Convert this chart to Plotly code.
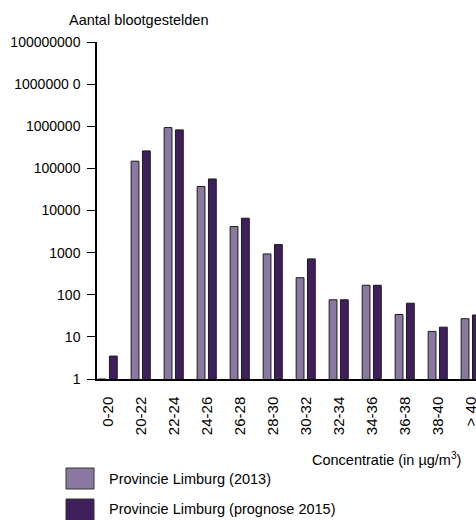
import plotly.graph_objects as go

categories = ["0-20", "20-22", "22-24", "24-26", "26-28", "28-30", "30-32",
              "32-34", "34-36", "36-38", "38-40", "> 40"]
limburg_2013 = [1, 148000, 930000, 37000, 4150, 930, 254, 76, 168, 34, 13.5, 27]
limburg_2015 = [3.5, 260000, 820000, 56000, 6560, 1550, 710, 76, 168, 63, 17, 33]
series_names = ["Provincie Limburg (2013)", "Provincie Limburg (prognose 2015)"]
series_colors = ["#8a78a0", "#3e1f5c"]
ytick_vals = [1, 10, 100, 1000, 10000, 100000, 1000000, 10000000, 100000000]
ytick_text = ["1", "10", "100", "1000", "10000", "100000", "1000000", "1000000 0", "100000000"]

FONT = "Liberation Sans, Arial, sans-serif"

fig = go.Figure()
for name, vals, col in zip(series_names, [limburg_2013, limburg_2015], series_colors):
    fig.add_trace(go.Bar(
        x=categories, y=vals, name=name, showlegend=False,
        marker=dict(color=col, line=dict(color="#1a1a1a", width=1)),
    ))

W, H = 476, 520
L, R, T, B = 97, 0, 42, 141
pw, ph = W - L - R, H - T - B

def px(x):
    return (x - L) / pw

def py(y):
    return (H - B - y) / ph

shapes = []
annotations = []
legend_rows = [(468, 489), (499, 520)]
for (top, bot), name, col in zip(legend_rows, series_names, series_colors):
    shapes.append(dict(type="rect", xref="paper", yref="paper",
                       x0=px(66), x1=px(94), y0=py(bot), y1=py(top),
                       fillcolor=col, line=dict(color="#333333", width=1)))
    annotations.append(dict(text=name, xref="paper", yref="paper",
                            x=px(107), y=py((top + bot) / 2), xanchor="left",
                            yanchor="middle", showarrow=False,
                            font=dict(family=FONT, size=14.5, color="#000")))

annotations.append(dict(text="Aantal blootgestelden", xref="paper", yref="paper",
                        x=px(67), y=py(20), xanchor="left", yanchor="middle",
                        showarrow=False, font=dict(family=FONT, size=14.5, color="#000")))
annotations.append(dict(text="Concentratie (in µg/m<sup>3</sup>)", xref="paper", yref="paper",
                        x=px(463), y=py(459), xanchor="right", yanchor="middle",
                        showarrow=False, font=dict(family=FONT, size=14.5, color="#000")))

fig.update_layout(
    width=W, height=H,
    margin=dict(l=L, r=R, t=T, b=B, pad=0),
    paper_bgcolor="white", plot_bgcolor="white",
    barmode="group", bargap=0.315, bargroupgap=0.31,
    font=dict(family=FONT, size=14, color="#000"),
    shapes=shapes, annotations=annotations,
    xaxis=dict(
        type="category", range=[-0.324, 11.16], automargin=False,
        showline=True, linecolor="#000", linewidth=1.5,
        ticks="", tickangle=-90, ticklabelstandoff=10,
        ticklabeloverflow="allow",
        tickfont=dict(family=FONT, size=15, color="#000"),
        showgrid=False, zeroline=False, fixedrange=True,
    ),
    yaxis=dict(
        type="log", range=[0, 8], automargin=False,
        tickvals=ytick_vals, ticktext=ytick_text,
        showline=True, linecolor="#000", linewidth=1.5,
        ticks="outside", ticklen=8, tickwidth=1, tickcolor="#000",
        ticklabelstandoff=4,
        tickfont=dict(family=FONT, size=14, color="#000"),
        showgrid=False, zeroline=False,
    ),
)

post = ("document.body.style.margin='0';document.body.style.padding='0';"
        "document.body.style.overflow='hidden';"
        "document.documentElement.style.overflow='hidden';")
fig.write_html("out.html", post_script=post, config={"displayModeBar": False})
